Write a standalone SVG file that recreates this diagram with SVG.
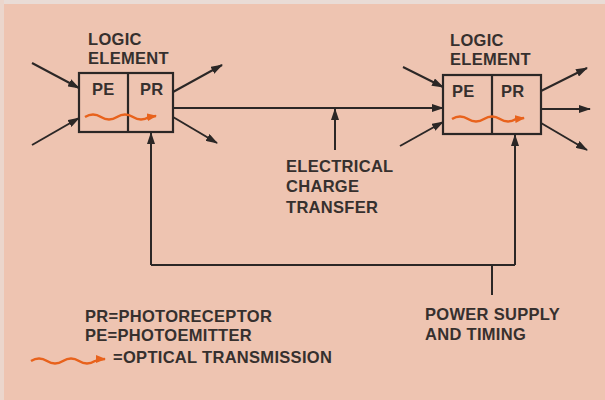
<svg xmlns="http://www.w3.org/2000/svg" width="605" height="400" viewBox="0 0 605 400">
<defs>
<style>
.ln{stroke:#2b2726;stroke-width:2;fill:none}
.bx{stroke:#2b2726;stroke-width:2.2;fill:none}
.wv{stroke:#e8621c;stroke-width:2.4;fill:none}
.t{font-family:"Liberation Sans",Arial,sans-serif;font-size:16.5px;font-weight:bold;fill:#36302e;letter-spacing:0.3px}
</style>
<marker id="ah" viewBox="0 0 12 8" refX="11" refY="4" markerWidth="12" markerHeight="8" markerUnits="userSpaceOnUse" orient="auto"><path d="M0,0 L12,4 L0,8 Z" fill="#2b2726"/></marker>
<marker id="oh" viewBox="0 0 10 8" refX="9" refY="4" markerWidth="10" markerHeight="8" markerUnits="userSpaceOnUse" orient="auto"><path d="M0,0 L10,4 L0,8 Z" fill="#e8621c"/></marker>
</defs>
<rect x="0" y="0" width="605" height="400" fill="#eec4b1"/>
<rect x="0" y="0" width="605" height="4" fill="#e9dcd6"/>
<rect x="0" y="0" width="4" height="400" fill="#ebd6cc"/>

<g id="left-element">
<text class="t" x="88" y="45">LOGIC</text>
<text class="t" x="88" y="64">ELEMENT</text>
<rect class="bx" x="79" y="73" width="94" height="59"/>
<line class="bx" x1="128" y1="73" x2="128" y2="132"/>
<text class="t" x="92" y="95">PE</text>
<text class="t" x="140" y="95">PR</text>
<path class="wv" d="M85,117 q8,-5 16,0 t16,0 t16,0 t16,0 l7,-1" marker-end="url(#oh)"/>
</g>

<g id="right-element">
<text class="t" x="450" y="46">LOGIC</text>
<text class="t" x="450" y="65">ELEMENT</text>
<rect class="bx" x="443" y="75" width="98" height="59"/>
<line class="bx" x1="492" y1="75" x2="492" y2="134"/>
<text class="t" x="452" y="97">PE</text>
<text class="t" x="501" y="97">PR</text>
<path class="wv" d="M452,119 q8,-5 16,0 t16,0 t16,0 t16,0 l8,-1" marker-end="url(#oh)"/>
</g>

<g id="charge-label">
<text class="t" x="286" y="172">ELECTRICAL</text>
<text class="t" x="286" y="192">CHARGE</text>
<text class="t" x="286" y="213">TRANSFER</text>
</g>

<g id="power-label">
<text class="t" x="425" y="320">POWER SUPPLY</text>
<text class="t" x="425" y="340">AND TIMING</text>
</g>

<g id="legend">
<text class="t" x="85" y="322">PR=PHOTORECEPTOR</text>
<text class="t" x="85" y="341">PE=PHOTOEMITTER</text>
<text class="t" x="113" y="363">=OPTICAL TRANSMISSION</text>
<path class="wv" d="M31,361 q8,-5 16,0 t16,0 t16,0 t16,0 q5,-2 10,-2" marker-end="url(#oh)"/>
</g>

<g id="connectors">
<line class="ln" x1="32" y1="63" x2="79" y2="88" marker-end="url(#ah)"/>
<line class="ln" x1="32" y1="145" x2="79" y2="118" marker-end="url(#ah)"/>
<line class="ln" x1="173" y1="92" x2="222" y2="65" marker-end="url(#ah)"/>
<line class="ln" x1="173" y1="117" x2="217" y2="143" marker-end="url(#ah)"/>
<line class="ln" x1="173" y1="108" x2="443" y2="108" marker-end="url(#ah)"/>
<line class="ln" x1="335" y1="150" x2="335" y2="109" marker-end="url(#ah)"/>
<line class="ln" x1="403" y1="67" x2="443" y2="87" marker-end="url(#ah)"/>
<line class="ln" x1="400" y1="146" x2="443" y2="122" marker-end="url(#ah)"/>
<line class="ln" x1="541" y1="91" x2="587" y2="68" marker-end="url(#ah)"/>
<line class="ln" x1="541" y1="109" x2="590" y2="109" marker-end="url(#ah)"/>
<line class="ln" x1="541" y1="123" x2="587" y2="150" marker-end="url(#ah)"/>
<polyline class="ln" points="151,265 515,265"/>
<line class="ln" x1="151" y1="265" x2="151" y2="133" marker-end="url(#ah)"/>
<line class="ln" x1="515" y1="265" x2="515" y2="135" marker-end="url(#ah)"/>
<line class="ln" x1="492" y1="295" x2="492" y2="265"/>
</g>
</svg>
